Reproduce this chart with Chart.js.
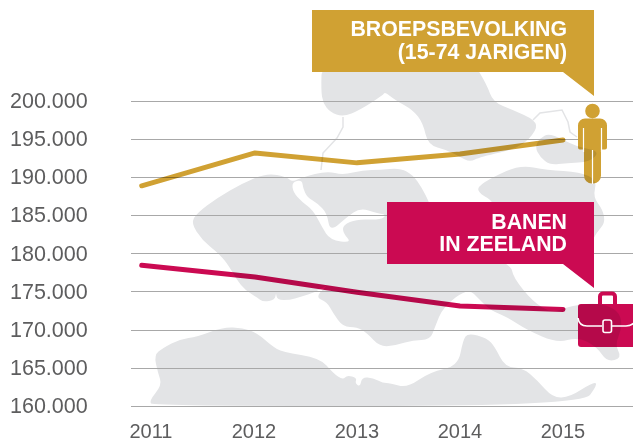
<!DOCTYPE html>
<html>
<head>
<meta charset="utf-8">
<script src="https://cdn.jsdelivr.net/npm/chart.js@4"></script>
<style>
    html, body { margin: 0; padding: 0; background: #fff; }
    canvas { display: block; }
</style>
</head>
<body>
<canvas id="zeelandChart" width="633" height="441"></canvas>
<script>
// Chart data
const tickYears = [2011, 2012, 2013, 2014, 2015];
const pointYears = [2010.91, 2012.01, 2013, 2014, 2015]; // first point sits left of its label
const beroepsbevolking = [188900, 193200, 191900, 193050, 194900];
const banen = [178500, 176950, 174950, 173150, 172700];
const yTicks = [160000, 165000, 170000, 175000, 180000, 185000, 190000, 195000, 200000];
const labelGold = ['BROEPSBEVOLKING', '(15-74 JARIGEN)'];
const labelRed = ['BANEN', 'IN ZEELAND'];

const GOLD = '#d0a133';
const RED = '#cb0a52';
const MAP = '#e3e4e6';

// Background map outline (decoration only, canvas pixels)
const mapShapes = [
    [[322,60],[321,90],[323,103],[330,112],[343,117],[360,110],[383,95],[385,92],[395,100],[413,110],[423,123],[428,145],[447,150],[460,157],[470,162],[480,157],[520,148],[537,130],[535,120],[513,110],[493,102],[487,85],[472,60]],
    [[535,147],[540,138],[550,133],[577,147],[600,151],[590,162],[567,163],[550,165],[540,157]],
    [[477,187],[493,177],[520,165],[547,170],[580,172],[597,180],[593,197],[603,210],[605,223],[597,232],[590,245],[520,262],[495,202],[480,194]],
    [[191,223],[197,213],[217,198],[243,183],[267,173],[287,177],[292,182],[303,177],[327,171],[343,175],[363,170],[380,170],[400,168],[413,175],[422,188],[429,202],[440,230],[511,264],[513,277],[533,302],[552,313],[567,307],[590,303],[607,305],[620,313],[622,328],[615,345],[622,358],[607,362],[597,347],[578,337],[557,343],[527,330],[507,317],[490,310],[480,300],[468,288],[443,307],[435,327],[430,340],[413,340],[397,345],[380,347],[367,333],[357,327],[343,327],[333,313],[327,302],[315,297],[330,283],[316,292],[300,297],[290,300],[277,300],[276,292],[275,300],[263,302],[258,298],[245,290],[237,280],[227,263],[218,253],[202,240]],
    [[149,401],[162,385],[158,373],[154,355],[163,348],[180,339],[197,337],[223,327],[243,328],[257,333],[272,346],[282,352],[320,358],[333,373],[343,380],[347,375],[357,378],[355,383],[360,387],[362,377],[373,378],[383,383],[390,383],[407,388],[430,372],[458,366],[463,340],[468,333],[487,338],[495,347],[505,367],[523,368],[537,380],[553,398],[570,397],[593,382],[598,384],[582,406],[153,406]]
];
const mapChannel = [[292,182],[293,192],[302,202],[313,210],[322,227],[330,240],[352,243],[343,233],[343,225],[357,219],[380,220],[387,215],[377,213],[360,208],[347,217],[330,232],[327,213],[317,203],[307,197],[303,188],[302,180]];
const mapThinLines = [
    [[343,117],[343,127],[337,138],[323,153],[321,170]],
    [[533,120],[540,113],[562,110],[568,122],[570,132],[577,137]]
];

// Closed outline, rounded through the midpoints so the coast looks less angular
function smoothPath(points) {
    const path = new Path2D();
    const n = points.length;
    const mid = (a, b) => [(a[0] + b[0]) / 2, (a[1] + b[1]) / 2];
    const start = mid(points[n - 1], points[0]);
    path.moveTo(start[0], start[1]);
    points.forEach((p, i) => {
        const m = mid(p, points[(i + 1) % n]);
        path.quadraticCurveTo(p[0], p[1], m[0], m[1]);
    });
    path.closePath();
    return path;
}

function linePath(points) {
    const path = new Path2D();
    points.forEach((p, i) => i ? path.lineTo(p[0], p[1]) : path.moveTo(p[0], p[1]));
    return path;
}

function drawMapFill(ctx) {
    ctx.fillStyle = MAP;
    mapShapes.forEach(shape => ctx.fill(smoothPath(shape)));
}

function drawMap(ctx) {
    ctx.save();
    drawMapFill(ctx);
    ctx.fillStyle = '#fff';
    ctx.fill(smoothPath(mapChannel));
    ctx.strokeStyle = MAP;
    ctx.lineWidth = 1.5;
    mapThinLines.forEach(line => ctx.stroke(linePath(line)));
    ctx.restore();
}

function drawCallout(ctx, x, y, w, h, color, lines, lineGap, firstY) {
    ctx.save();
    ctx.fillStyle = color;
    ctx.beginPath();
    ctx.moveTo(x, y);
    ctx.lineTo(x + w, y);
    ctx.lineTo(x + w, y + h + 24);
    ctx.lineTo(x + w - 31, y + h);
    ctx.lineTo(x, y + h);
    ctx.closePath();
    ctx.fill();
    ctx.fillStyle = '#fff';
    ctx.font = 'bold 21.3px "Liberation Sans", Arial, sans-serif';
    ctx.textAlign = 'right';
    ctx.textBaseline = 'middle';
    lines.forEach((line, i) => ctx.fillText(line, 567, firstY + i * lineGap));
    ctx.restore();
}

// Icon in its colour, with the map showing through darker as overprint
function drawIcon(ctx, path, color) {
    ctx.save();
    ctx.fillStyle = color;
    ctx.fill(path);
    ctx.clip(path);
    ctx.globalCompositeOperation = 'multiply';
    drawMapFill(ctx);
    ctx.restore();
}

function drawPerson(ctx) {
    const p = new Path2D();
    p.arc(592.5, 111, 7.3, 0, Math.PI * 2);
    p.closePath();
    p.roundRect(578, 118.5, 29, 31, [7, 7, 2, 2]);
    p.roundRect(584, 130, 17, 53.5, [0, 0, 8, 8]);
    drawIcon(ctx, p, GOLD);
    ctx.save();
    ctx.strokeStyle = '#fff';
    ctx.lineWidth = 1.2;
    [[583.5, 128, 583.5, 152], [601.5, 128, 601.5, 152], [592.5, 150, 592.5, 184]].forEach(l => {
        ctx.beginPath();
        ctx.moveTo(l[0], l[1]);
        ctx.lineTo(l[2], l[3]);
        ctx.stroke();
    });
    ctx.restore();
}

function drawBag(ctx) {
    ctx.save();
    ctx.strokeStyle = RED;
    ctx.lineWidth = 4;
    ctx.beginPath();
    ctx.roundRect(600, 293.5, 15, 16, [3, 3, 0, 0]);
    ctx.stroke();
    ctx.restore();

    const body = new Path2D();
    body.roundRect(578, 304, 60, 43, 3);
    drawIcon(ctx, body, RED);

    ctx.save();
    ctx.strokeStyle = '#fff';
    ctx.lineWidth = 1.6;
    ctx.beginPath();
    ctx.moveTo(578, 318);
    ctx.quadraticCurveTo(579, 326, 587, 326);
    ctx.lineTo(602, 326);
    ctx.moveTo(612, 326);
    ctx.lineTo(626, 326);
    ctx.quadraticCurveTo(631, 326, 634, 323);
    ctx.stroke();
    ctx.beginPath();
    ctx.roundRect(603, 320, 8.5, 12.5, 2);
    ctx.stroke();
    ctx.restore();
}

const backdropPlugin = {
    id: 'backdrop',
    beforeDraw(chart) {
        drawMap(chart.ctx);
    },
    beforeDatasetsDraw(chart) {
        chart.ctx.save();
        chart.ctx.globalCompositeOperation = 'multiply';
    },
    afterDatasetsDraw(chart) {
        chart.ctx.restore();
    },
    afterDraw(chart) {
        const ctx = chart.ctx;
        drawCallout(ctx, 312, 10, 282, 62, GOLD, labelGold, 23, 30.5);
        drawCallout(ctx, 387, 202, 207, 62, RED, labelRed, 21.5, 223.5);
        drawPerson(ctx);
        drawBag(ctx);
    }
};

const ctx = document.getElementById('zeelandChart').getContext('2d');

new Chart(ctx, {
    type: 'line',
    data: {
        datasets: [
            {
                label: 'Beroepsbevolking (15-74 jarigen)',
                data: pointYears.map((year, i) => ({ x: year, y: beroepsbevolking[i] })),
                borderColor: GOLD,
                borderWidth: 5,
                borderCapStyle: 'round',
                borderJoinStyle: 'round',
                pointRadius: 0,
                fill: false,
                tension: 0
            },
            {
                label: 'Banen in Zeeland',
                data: pointYears.map((year, i) => ({ x: year, y: banen[i] })),
                borderColor: RED,
                borderWidth: 5,
                borderCapStyle: 'round',
                borderJoinStyle: 'round',
                pointRadius: 0,
                fill: false,
                tension: 0
            }
        ]
    },
    options: {
        responsive: false,
        animation: false,
        layout: {
            padding: { left: 10, top: 101, right: 0, bottom: 0 }
        },
        plugins: {
            legend: { display: false },
            title: { display: false },
            tooltip: { enabled: false }
        },
        scales: {
            x: {
                type: 'linear',
                min: 2010.806,
                max: 2015.68,
                afterBuildTicks: scale => {
                    scale.ticks = tickYears.map(value => ({ value }));
                },
                afterFit: scale => {
                    scale.height = 34.5;
                },
                grid: { display: false },
                border: { display: false },
                ticks: {
                    autoSkip: false,
                    maxRotation: 0,
                    padding: 6,
                    color: '#5d5d5e',
                    font: { family: '"Liberation Sans", Arial, sans-serif', size: 20 },
                    callback: value => String(value)
                }
            },
            y: {
                min: 160000,
                max: 200000,
                afterBuildTicks: scale => {
                    scale.ticks = yTicks.map(value => ({ value }));
                },
                afterFit: scale => {
                    scale.width = 121;
                },
                grid: { color: '#a8a8a8', lineWidth: 1, drawTicks: false },
                border: { display: false },
                ticks: {
                    autoSkip: false,
                    crossAlign: 'far',
                    padding: 0,
                    labelOffset: 1,
                    color: '#5d5d5e',
                    font: { family: '"Liberation Sans", Arial, sans-serif', size: 21.5 },
                    callback: value => value.toLocaleString('de-DE')
                }
            }
        }
    },
    plugins: [backdropPlugin]
});
</script>
</body>
</html>
